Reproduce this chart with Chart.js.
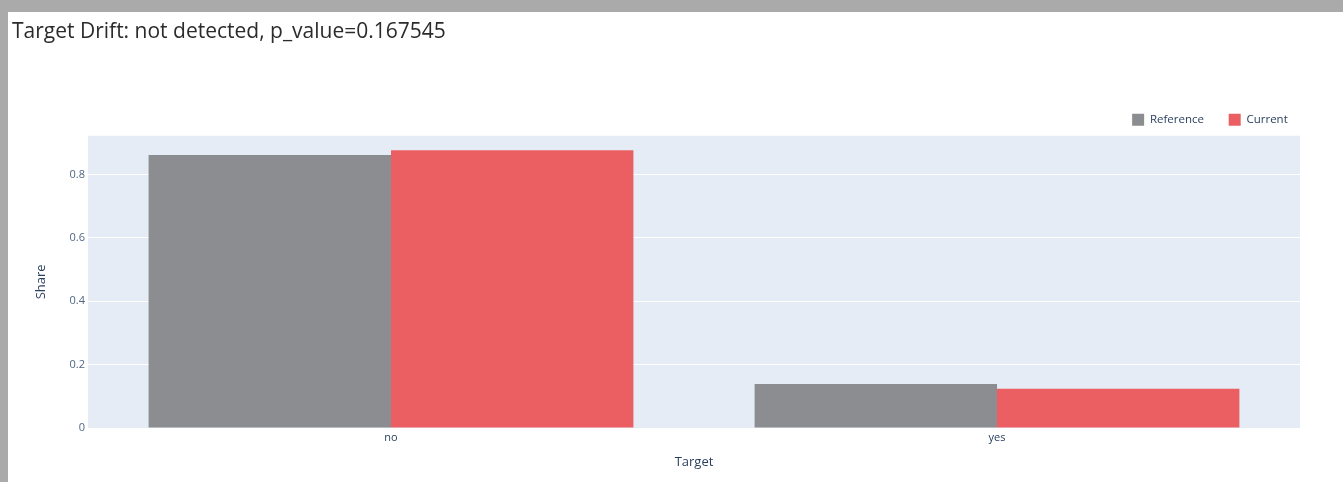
<!DOCTYPE html>
<html>
<head>
<meta charset="utf-8">
<script src="https://cdn.jsdelivr.net/npm/chart.js@4.4.1/dist/chart.umd.min.js"></script>
<style>
  html, body { margin: 0; padding: 0; background: #aaaaaa; width: 1343px; height: 482px; overflow: hidden; }
  #panel { position: absolute; left: 8px; top: 12px; width: 1335px; height: 470px; background: #ffffff; }
</style>
</head>
<body>
<div id="panel"><canvas id="c"></canvas></div>
<script>
const titleText = 'Target Drift: not detected, p_value=0.167545';
const categories = ['no', 'yes'];
const referenceShare = [0.861, 0.139];
const currentShare = [0.876, 0.124];
const yTickValues = [0, 0.2, 0.4, 0.6, 0.8];
const yTickLabels = ['0', '0.2', '0.4', '0.6', '0.8'];
const seriesNames = ['Reference', 'Current'];

const plotBg = {
  id: 'plotBg',
  beforeDraw(chart) {
    const {ctx, chartArea: a} = chart;
    ctx.save();
    ctx.fillStyle = '#e5ecf6';
    ctx.fillRect(a.left, a.top, a.right - a.left, a.bottom - a.top);
    ctx.restore();
  }
};

new Chart(document.getElementById('c'), {
  type: 'bar',
  data: {
    labels: categories,
    datasets: [
      { label: seriesNames[0], data: referenceShare, backgroundColor: '#8c8d90', borderWidth: 0 },
      { label: seriesNames[1], data: currentShare, backgroundColor: '#eb5f63', borderWidth: 0 }
    ]
  },
  options: {
    responsive: true,
    maintainAspectRatio: false,
    animation: false,
    layout: { padding: { left: 4, right: 30.5, top: 0, bottom: 0 } },
    datasets: { bar: { categoryPercentage: 0.8, barPercentage: 1.0 } },
    plugins: {
      title: {
        display: true,
        text: titleText,
        align: 'start',
        color: '#2b2b2b',
        font: { family: 'Open Sans', size: 21, weight: 'normal' },
        padding: { top: 7.4, bottom: 44.4 }
      },
      legend: {
        display: true,
        position: 'top',
        align: 'end',
        labels: {
          boxWidth: 12,
          boxHeight: 12,
          padding: 24.75,
          color: '#2a3f5f',
          font: { family: 'Open Sans', size: 11.5 }
        }
      },
      tooltip: { enabled: false }
    },
    scales: {
      x: {
        grid: { display: false, drawTicks: false },
        border: { display: false },
        ticks: { color: '#2a3f5f', font: { family: 'Open Sans', size: 11 }, padding: 3 },
        title: { display: true, text: 'Target', color: '#2a3f5f', font: { family: 'Open Sans', size: 13 }, padding: { top: 0, bottom: 11.5 } },
        afterFit(s) { s.height = 54; }
      },
      y: {
        min: 0,
        max: 0.922,
        grid: { color: '#ffffff', lineWidth: 1, drawTicks: false },
        border: { display: false },
        afterBuildTicks(s) { s.ticks = yTickValues.map(v => ({ value: v })); },
        ticks: {
          color: '#506784',
          font: { family: 'Open Sans', size: 11 },
          padding: 3,
          callback(v) { const i = yTickValues.indexOf(v); return i >= 0 ? yTickLabels[i] : ''; }
        },
        title: { display: true, text: 'Share', color: '#2a3f5f', font: { family: 'Open Sans', size: 13 }, padding: { top: 21, bottom: 0 } },
        afterFit(s) { s.width = 76; }
      },
      yPad: {
        position: 'right',
        display: true,
        grid: { display: false },
        border: { display: false },
        ticks: { display: false },
        afterFit(s) { s.width = 12.5; }
      }
    }
  },
  plugins: [plotBg]
});
</script>
</body>
</html>
